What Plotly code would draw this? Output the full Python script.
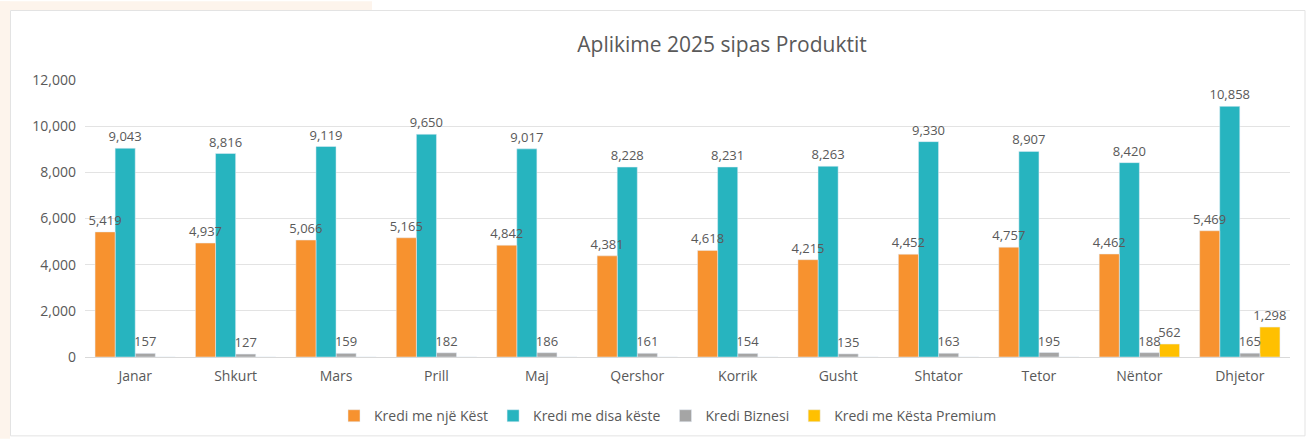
import plotly.graph_objects as go

months = ["Janar", "Shkurt", "Mars", "Prill", "Maj", "Qershor", "Korrik",
          "Gusht", "Shtator", "Tetor", "Nëntor", "Dhjetor"]
kredi_nje_kest = [5419, 4937, 5066, 5165, 4842, 4381, 4618, 4215, 4452, 4757, 4462, 5469]
kredi_disa_keste = [9043, 8816, 9119, 9650, 9017, 8228, 8231, 8263, 9330, 8907, 8420, 10858]
kredi_biznesi = [157, 127, 159, 182, 186, 161, 154, 135, 163, 195, 188, 165]
kredi_premium = [0, 0, 0, 0, 0, 0, 0, 0, 0, 0, 562, 1298]

series = [
    ("Kredi me një Këst", kredi_nje_kest, "#F7922F"),
    ("Kredi me disa këste", kredi_disa_keste, "#27B4BF"),
    ("Kredi Biznesi", kredi_biznesi, "#A5A5A5"),
    ("Kredi me Kësta Premium", kredi_premium, "#FFC000"),
]

W, H = 1310, 444
L, R, T, B = 85, 1290, 80, 361


def px(x):
    return (x - L) / (R - L)


def py(y):
    return (B - y) / (B - T)


FONT = "Open Sans, Noto Sans, sans-serif"
TXT = "#595959"

BAR_W = 0.2
fig = go.Figure()
# add in reverse so the left-hand series' labels are drawn on top
for idx in reversed(range(len(series))):
    name, vals, col = series[idx]
    fig.add_trace(go.Bar(
        x=months, y=vals, name=name, marker_color=col,
        width=BAR_W, offset=-0.4 + idx * BAR_W,
        text=[f"{v:,}" if v else "" for v in vals],
        textposition="outside", constraintext="none", cliponaxis=False,
        textfont=dict(family=FONT, size=13, color=TXT),
    ))

shapes = [
    dict(type="rect", xref="paper", yref="paper", layer="below",
         x0=px(0), x1=px(372), y0=py(0), y1=py(9),
         fillcolor="#FDF4EC", line_width=0),
    dict(type="rect", xref="paper", yref="paper", layer="below",
         x0=px(0), x1=px(10), y0=py(0), y1=py(444),
         fillcolor="#FDF4EC", line_width=0),
    dict(type="rect", xref="paper", yref="paper", layer="below",
         x0=px(10.5), x1=px(1305), y0=py(9.5), y1=py(441),
         fillcolor="rgba(0,0,0,0)", line=dict(color="#E3E3E3", width=1)),
]

fig.update_layout(
    width=W, height=H,
    margin=dict(l=L, r=W - R, t=T, b=H - B),
    paper_bgcolor="white", plot_bgcolor="white",
    barmode="overlay",
    title=dict(text="Aplikime 2025 sipas Produktit", x=722 / W, xref="container",
               xanchor="center", y=1 - 45 / H, yref="container", yanchor="middle",
               font=dict(family=FONT, size=21, color=TXT)),
    font=dict(family=FONT, size=13, color=TXT),
    showlegend=True,
    legend=dict(orientation="h", x=px(668), xanchor="center", y=py(421),
                yanchor="middle", font=dict(family=FONT, size=14, color=TXT),
                itemwidth=30, traceorder="reversed"),
    shapes=shapes,
    xaxis=dict(showgrid=False, showline=True, linecolor="#D9D9D9", ticks="",
               ticklabelstandoff=6,
               tickfont=dict(family=FONT, size=14, color=TXT)),
    yaxis=dict(range=[0, 12000], dtick=2000, tickformat=",d", showgrid=True,
               gridcolor="#E3E3E3", zeroline=False, ticks="",
               ticklabelstandoff=8,
               tickfont=dict(family=FONT, size=14, color=TXT)),
)

fig.write_html("out.html")
